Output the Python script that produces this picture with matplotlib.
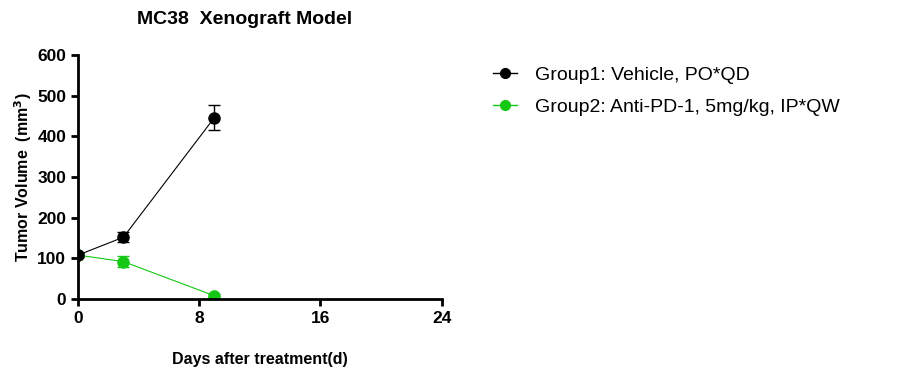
import matplotlib.pyplot as plt
from matplotlib.lines import Line2D

plt.rcParams["font.family"] = ["Liberation Sans", "DejaVu Sans"]

days = [0, 3, 9]
group1_mean = [108, 152, 446]
group1_err = [4, 12, 31]
group2_mean = [108, 92, 8]
group2_err = [4, 13, 4]
labels = ["Group1: Vehicle, PO*QD", "Group2: Anti-PD-1, 5mg/kg, IP*QW"]
colors = ["black", "#14c814"]

fig = plt.figure(figsize=(9.07, 3.79), dpi=100)
ax = fig.add_axes([0.086, 0.211, 0.401, 0.644])

ax.errorbar(days, group1_mean, yerr=group1_err, color=colors[0], marker="o",
            markersize=8, linewidth=0.8, elinewidth=1, capsize=4, zorder=3)
ax.errorbar(days, group2_mean, yerr=group2_err, color=colors[1], marker="o",
            markersize=8, linewidth=0.8, elinewidth=1, capsize=4, zorder=2)

ax.set_xlim(0, 24)
ax.set_ylim(0, 600)
ax.set_xticks([0, 8, 16, 24])
ax.set_yticks(range(0, 601, 100))

for side in ["top", "right"]:
    ax.spines[side].set_visible(False)
for side in ["left", "bottom"]:
    ax.spines[side].set_linewidth(2)

ax.tick_params(width=2, length=5, labelsize=12.5)
for lab in ax.get_xticklabels() + ax.get_yticklabels():
    lab.set_fontweight("bold")

ax.set_xlabel("Days after treatment(d)", fontsize=11.5, fontweight="bold", labelpad=19)
ax.set_ylabel("Tumor Volume  (mm$^\\mathbf{3}$)", fontsize=11.5, fontweight="bold", labelpad=2)
fig.text(245 / 907, 1 - 19 / 379, "MC38  Xenograft Model", fontsize=14,
         fontweight="bold", ha="center", va="center")

handles = [Line2D([], [], color=c, marker="o", markersize=7, linewidth=1) for c in colors]
ax.legend(handles, labels, loc="upper left", bbox_to_anchor=(1.092, 1.025),
          frameon=False, fontsize=14, handlelength=1.25, handletextpad=0.95,
          labelspacing=0.72)

plt.savefig("out.png", dpi=100)
plt.close()
